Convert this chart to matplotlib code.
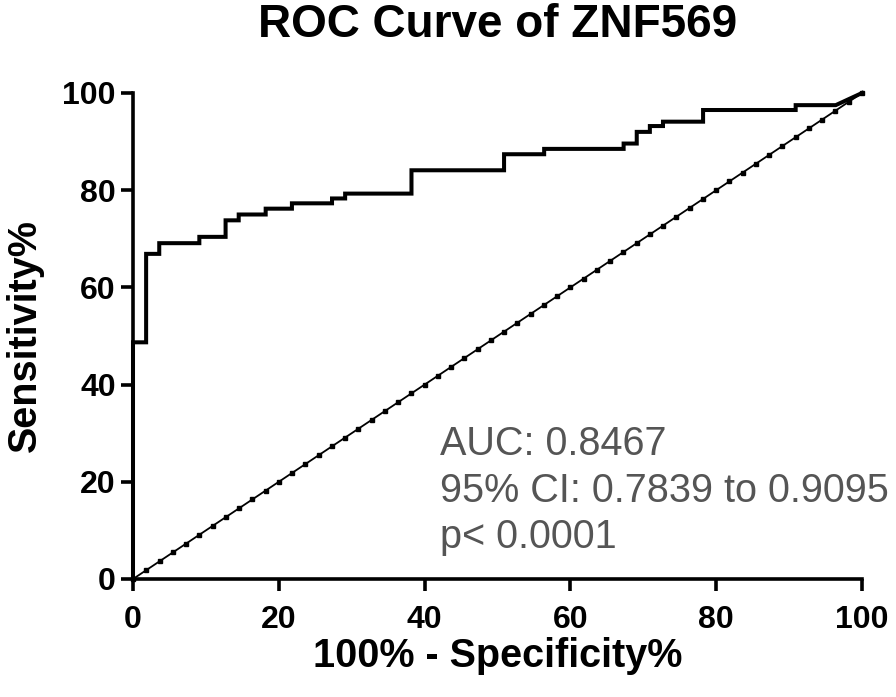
import numpy as np
import matplotlib.pyplot as plt

plt.rcParams['font.family'] = ['Liberation Sans', 'DejaVu Sans']

# ROC points (100% - specificity%, sensitivity%)
fpr = [0, 0, 1.8, 1.8, 3.6, 3.6, 9.1, 9.1, 12.7, 12.7, 14.5, 14.5, 18.2, 18.2,
       21.8, 21.8, 27.3, 27.3, 29.1, 29.1, 38.2, 38.2, 50.9, 50.9, 56.4, 56.4,
       67.3, 67.3, 69.1, 69.1, 70.9, 70.9, 72.7, 72.7, 78.2, 78.2, 90.9, 90.9,
       96.4, 100]
tpr = [0, 48.7, 48.7, 66.9, 66.9, 69.1, 69.1, 70.4, 70.4, 73.8, 73.8, 75.0,
       75.0, 76.2, 76.2, 77.3, 77.3, 78.3, 78.3, 79.3, 79.3, 84.1, 84.1, 87.4,
       87.4, 88.5, 88.5, 89.6, 89.6, 92.0, 92.0, 93.2, 93.2, 94.1, 94.1, 96.5,
       96.5, 97.5, 97.5, 100]
n_controls = 55
ticks = [0, 20, 40, 60, 80, 100]
stats = ["AUC: 0.8467", "95% CI: 0.7839 to 0.9095", "p< 0.0001"]

fig = plt.figure(figsize=(8.96, 6.97), dpi=100)
ax = fig.add_axes([133/896, 1-579/697, (862-133)/896, (579-93)/697])

diag = np.linspace(0, 100, n_controls+1)
ax.plot(diag, diag, color='black', lw=1.3, marker='s', ms=2.8, clip_on=False, zorder=2)
ax.plot(fpr, tpr, color='black', lw=2.9, solid_joinstyle='miter', clip_on=False, zorder=3)

ax.set_xlim(0, 100)
ax.set_ylim(0, 100)
ax.set_xticks(ticks)
ax.set_yticks(ticks)
for s in ['top', 'right']:
    ax.spines[s].set_visible(False)
for s in ['left', 'bottom']:
    ax.spines[s].set_linewidth(2.6)
ax.tick_params(direction='out', length=8.5, width=2.6, labelsize=23)
ax.tick_params(axis='x', pad=10)
ax.tick_params(axis='y', pad=4)
for lab in ax.get_xticklabels() + ax.get_yticklabels():
    lab.set_fontweight('bold')

ax.set_xlabel("100% - Specificity%", fontsize=28.5, fontweight='bold', labelpad=2)
ax.set_ylabel("Sensitivity%", fontsize=28.5, fontweight='bold', labelpad=13)
ax.set_title("ROC Curve of ZNF569", fontsize=33, fontweight='bold', pad=40)

for i, t in enumerate(stats):
    fig.text(440/896, 1-(455+46.5*i)/697, t, fontsize=28.5, color='#555555',
             ha='left', va='baseline')

fig.savefig('out.png', dpi=100)
